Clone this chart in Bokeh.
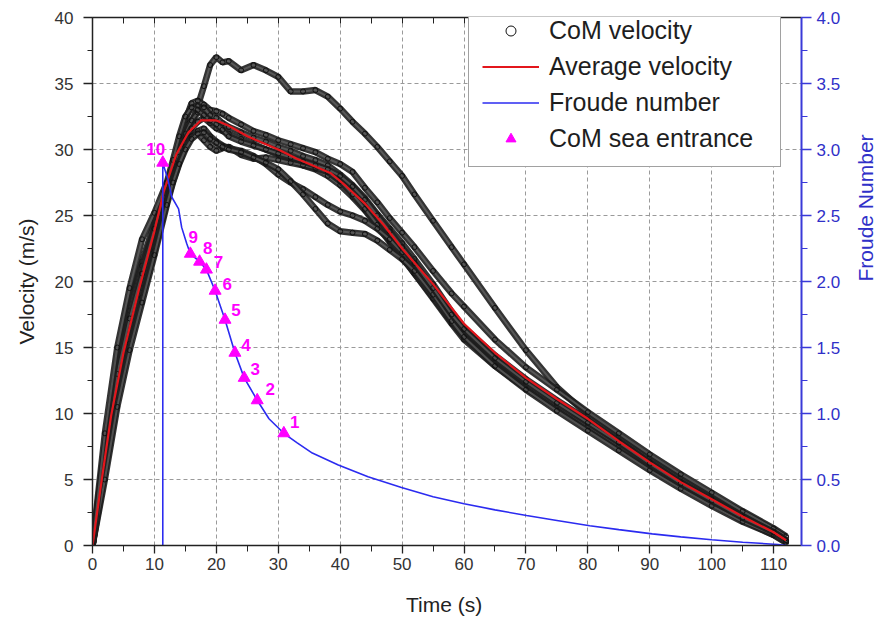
import math
from bokeh.plotting import figure
from bokeh.models import (LinearAxis, Range1d, SingleIntervalTicker, Legend, LegendItem,
                          ColumnDataSource, PrintfTickFormatter)
from bokeh.core.properties import value
from bokeh.embed import file_html
from bokeh.resources import INLINE

# ---------------- data ----------------
time_grid = [0, 2, 4, 6, 8, 10, 12, 13, 14, 15, 16, 17, 18, 19, 20, 21, 22, 24, 26, 28, 30, 32,
             34, 36, 38, 40, 42, 44, 46, 48, 50, 52, 55, 58, 60, 65, 70, 75, 80, 85, 90, 95, 100,
             105, 110, 112]

run1 = [0, 7.6, 13.8, 18.2, 21.5, 24.4, 27.3, 28.6, 29.8, 30.9, 32.0, 33.3, 34.8, 36.4, 37.0, 36.6,
        36.7, 36.0, 36.4, 36.0, 35.5, 34.4, 34.4, 34.5, 34.0, 33.1, 32.1, 31.2, 30.2, 29.1, 28.0,
        26.6, 24.6, 22.6, 21.3, 18.0, 14.8, 12.0, 9.9, 8.3, 6.7, 5.2, 3.8, 2.5, 1.2, 0.6]
run2 = [0, 7.2, 13.5, 17.8, 21.2, 24.0, 27.0, 28.8, 30.5, 32.2, 33.5, 33.7, 33.4, 33.0, 32.9, 32.7,
        32.4, 31.9, 31.4, 31.1, 30.7, 30.4, 30.1, 29.8, 29.3, 28.9, 28.3, 27.1, 26.0, 24.8, 23.7,
        22.6, 20.8, 19.1, 18.1, 15.6, 13.5, 11.8, 10.1, 8.5, 6.9, 5.4, 4.0, 2.6, 1.3, 0.7]
run3 = [0, 6.5, 12.5, 16.8, 20.2, 23.5, 27.0, 28.6, 30.0, 31.2, 32.2, 32.8, 33.2, 32.6, 32.4, 32.0,
        31.7, 31.3, 30.9, 30.6, 30.2, 29.9, 29.5, 29.2, 28.8, 28.1, 27.3, 26.3, 25.1, 24.0, 22.9,
        21.7, 19.8, 17.7, 16.5, 14.4, 12.6, 11.0, 9.5, 7.9, 6.3, 4.8, 3.5, 2.2, 1.0, 0.4]
run4 = [0, 6.0, 11.8, 16.0, 19.5, 23.0, 26.6, 28.2, 29.6, 30.8, 31.6, 32.1, 32.4, 32.0, 31.6, 31.4,
        31.2, 30.8, 30.4, 30.0, 29.6, 29.2, 28.8, 28.5, 28.0, 27.3, 26.4, 25.4, 24.2, 23.0, 21.8,
        20.6, 18.8, 16.9, 15.8, 13.8, 12.1, 10.6, 9.1, 7.6, 6.0, 4.6, 3.3, 2.0, 0.9, 0.3]
run5 = [0, 7.0, 13.0, 17.2, 20.6, 24.0, 27.3, 28.8, 29.8, 30.5, 31.0, 31.2, 30.7, 30.2, 29.9, 30.1,
        30.2, 29.6, 29.3, 29.4, 29.2, 29.0, 28.8, 28.6, 28.3, 27.6, 26.6, 25.5, 24.3, 23.1, 21.9,
        20.6, 18.7, 16.8, 15.6, 13.6, 11.9, 10.4, 8.9, 7.4, 5.9, 4.5, 3.2, 2.0, 0.9, 0.3]
run6 = [0, 5.5, 11.0, 15.3, 18.8, 22.3, 26.0, 27.6, 29.0, 30.2, 31.0, 31.4, 31.6, 31.0, 30.6, 30.3,
        30.1, 29.9, 29.5, 28.9, 28.1, 27.5, 27.0, 26.4, 25.8, 25.3, 25.0, 24.6, 24.0, 23.2, 22.2,
        21.2, 19.4, 17.5, 16.3, 14.1, 12.2, 10.6, 9.0, 7.5, 6.0, 4.5, 3.2, 1.9, 0.8, 0.3]
run7 = [0, 5.0, 10.5, 14.8, 18.4, 22.0, 25.8, 27.5, 28.9, 30.0, 30.8, 31.2, 31.3, 30.8, 30.5, 30.2,
        30.0, 29.8, 29.4, 29.0, 28.5, 27.6, 26.6, 25.5, 24.4, 23.8, 23.7, 23.6, 23.1, 22.4, 21.7,
        20.8, 19.0, 17.0, 15.8, 13.6, 11.8, 10.2, 8.7, 7.2, 5.7, 4.3, 3.0, 1.8, 0.8, 0.2]
run8 = [0, 8.5, 15.0, 19.5, 23.2, 25.2, 27.5, 29.2, 31.0, 32.5, 33.2, 33.0, 32.6, 32.2, 31.9, 31.5,
        31.0, 30.6, 30.3, 30.0, 29.7, 29.4, 29.1, 28.8, 28.5, 28.0, 27.2, 26.2, 25.0, 23.8, 22.6,
        21.4, 19.5, 17.5, 16.4, 14.2, 12.4, 10.8, 9.3, 7.8, 6.2, 4.7, 3.4, 2.1, 1.0, 0.4]
com_runs = [run1, run2, run3, run4, run5, run6, run7, run8]

avg_t = [0, 1.5, 3, 5, 7.5, 10, 11.5, 13.5, 15.5, 17.5, 20, 22, 25, 28, 30, 33, 35, 38.5, 41, 44,
         47, 50, 55, 60, 65, 70, 75, 80, 85, 90, 95, 100, 105, 110, 112]
avg_v = [0, 5.0, 9.8, 14.6, 19.4, 23.8, 26.8, 29.6, 31.3, 32.2, 32.2, 31.8, 31.0, 30.4, 30.0, 29.3,
         28.9, 28.2, 27.2, 25.9, 24.3, 22.5, 19.8, 16.8, 14.6, 12.7, 11.1, 9.6, 7.9, 6.3, 4.8, 3.5,
         2.2, 1.0, 0.4]

froude_t = [11.35, 11.35, 12.2, 12.8, 13.9, 14.4, 15.2, 15.8, 17.3, 18.4, 19.8, 21.4, 23.0, 24.5,
            26.6, 28.5, 30.9, 33.0, 35.5, 39.7, 44.5, 49.9, 55.0, 60.0, 65.0, 70.1, 75.0, 80.3,
            85.0, 90.4, 95.0, 100.0, 105.0, 110.7, 112.0]
froude_f = [0.0, 2.90, 2.77, 2.64, 2.55, 2.41, 2.29, 2.21, 2.15, 2.09, 1.93, 1.71, 1.46, 1.27,
            1.10, 0.96, 0.85, 0.78, 0.70, 0.61, 0.52, 0.44, 0.37, 0.316, 0.27, 0.227, 0.19, 0.15,
            0.12, 0.088, 0.065, 0.043, 0.025, 0.008, 0.0]

entry_t = [30.9, 26.6, 24.5, 23.0, 21.4, 19.8, 18.4, 17.3, 15.8, 11.35]
entry_f = [0.85, 1.10, 1.27, 1.46, 1.71, 1.93, 2.09, 2.15, 2.21, 2.90]
entry_labels = ["1", "2", "3", "4", "5", "6", "7", "8", "9", "10"]

# label placement (screen px, style only)
label_dx = [11, 13, 11, 11, 11, 12, 12, 8, 3, -7]
label_dy = [-11, -11, -9, -8, -10, -7, -8, -14, -17, -14]

FONT = "Liberation Sans"
BLUE = "#2b2bf0"
AXBLUE = "#3a3ad8"
TXTBLUE = "#3030c8"

# ---------------- figure ----------------
p = figure(width=891, height=630, x_range=Range1d(0, 114.5), y_range=Range1d(0, 40),
           output_backend="svg", toolbar_location=None,
           min_border_left=92, min_border_right=83, min_border_top=17, min_border_bottom=85)
p.extra_y_ranges = {"froude": Range1d(0, 4)}
p.outline_line_color = None
p.background_fill_color = "white"
p.border_fill_color = "white"

# axes
p.xaxis.ticker = SingleIntervalTicker(interval=10, num_minor_ticks=2)
p.yaxis.ticker = SingleIntervalTicker(interval=5, num_minor_ticks=2)
for ax in (p.xaxis[0], p.yaxis[0]):
    ax.axis_line_color = "#222222"
    ax.axis_line_width = 1.5
    ax.major_tick_line_color = "#222222"
    ax.minor_tick_line_color = "#222222"
    ax.major_tick_line_width = 1.3
    ax.major_tick_in = 0
    ax.minor_tick_in = 0
    ax.major_label_text_font = FONT
    ax.major_label_text_font_size = "17px"
    ax.major_label_text_color = "#333333"
    ax.axis_label_text_font = FONT
    ax.axis_label_text_font_size = "21px"
    ax.axis_label_text_font_style = "normal"
    ax.axis_label_text_color = "#222222"

p.xaxis.major_tick_out = 8
p.xaxis.minor_tick_out = 6
p.xaxis.major_label_standoff = 4
p.xaxis.axis_label = "Time  (s)"
p.xaxis.axis_label_standoff = 20

p.yaxis.major_tick_out = 9
p.yaxis.minor_tick_out = 5
p.yaxis.major_label_standoff = 10
p.yaxis.axis_label = "Velocity (m/s)"
p.yaxis.axis_label_standoff = 14

# top frame axis with inward ticks
top = LinearAxis(ticker=SingleIntervalTicker(interval=5, num_minor_ticks=0))
top.axis_line_color = "#222222"
top.axis_line_width = 1.5
top.major_tick_in = 6
top.major_tick_out = 0
top.major_tick_line_color = "#222222"
top.minor_tick_line_color = None
top.major_label_text_alpha = 0
top.major_label_text_font_size = "1px"
top.major_label_standoff = 0
p.add_layout(top, "above")

# right Froude axis
right = LinearAxis(y_range_name="froude",
                   ticker=SingleIntervalTicker(interval=0.5, num_minor_ticks=2),
                   formatter=PrintfTickFormatter(format="%.1f"))
right.axis_line_color = AXBLUE
right.axis_line_width = 2
right.major_tick_line_color = AXBLUE
right.minor_tick_line_color = AXBLUE
right.major_tick_line_width = 1.5
right.major_tick_in = 0
right.minor_tick_in = 0
right.major_tick_out = 10
right.minor_tick_out = 6
right.major_label_standoff = 5
right.major_label_text_font = FONT
right.major_label_text_font_size = "17px"
right.major_label_text_color = TXTBLUE
right.axis_label = "Froude Number"
right.axis_label_text_font = FONT
right.axis_label_text_font_size = "21px"
right.axis_label_text_font_style = "normal"
right.axis_label_text_color = TXTBLUE
right.axis_label_standoff = 22
if "axis_label_orientation" in right.properties():
    right.axis_label_orientation = math.pi / 2
p.add_layout(right, "right")

# grids
for g in (p.xgrid[0], p.ygrid[0]):
    g.grid_line_color = "#9a9a9a"
    g.grid_line_dash = "4 3"
    g.grid_line_width = 1

# ---------------- CoM velocity runs ----------------
scatter_renderers = []
for run in com_runs:
    p.line(time_grid, run, line_width=6.5, line_color="#1e1e1e", line_alpha=0.9)
    p.line(time_grid, run, line_width=2, line_color="#707070", line_alpha=0.6)
    r = p.scatter(time_grid, run, marker="circle", size=5, fill_color=None,
                  line_color="#111111", line_width=1)
    scatter_renderers.append(r)

avg_r = p.line(avg_t, avg_v, line_width=2.2, line_color="#e3161c")
fr_r = p.line(froude_t, froude_f, y_range_name="froude", line_width=1.6, line_color=BLUE)

src = ColumnDataSource(dict(t=entry_t, f=entry_f, lab=entry_labels, dx=label_dx, dy=label_dy))
tri_r = p.scatter("t", "f", source=src, y_range_name="froude", marker="triangle", size=12,
                  fill_color="#ff00ff", line_color="#ff00ff")
p.text("t", "f", text="lab", source=src, y_range_name="froude", x_offset="dx", y_offset="dy",
       text_align="center", text_baseline="middle", text_font=value(FONT),
       text_font_size="17px", text_font_style="bold", text_color="#ff00ff")

# ---------------- legend ----------------
legend = Legend(items=[
    LegendItem(label="CoM velocity", renderers=[scatter_renderers[0]]),
    LegendItem(label="Average velocity", renderers=[avg_r]),
    LegendItem(label="Froude number", renderers=[fr_r]),
    LegendItem(label="CoM sea entrance", renderers=[tri_r]),
], location=(376, 378))
legend.glyph_width = 57
legend.glyph_height = 25
legend.spacing = 7
legend.padding = 13
legend.label_standoff = 10
legend.label_width = 218
legend.label_text_font = FONT
legend.label_text_font_size = "25px"
legend.label_text_color = "#1e1e1e"
legend.border_line_color = "#444444"
legend.border_line_width = 1.5
legend.background_fill_color = "white"
legend.background_fill_alpha = 1
p.add_layout(legend)

open("out.html", "w").write(file_html(p, INLINE))
